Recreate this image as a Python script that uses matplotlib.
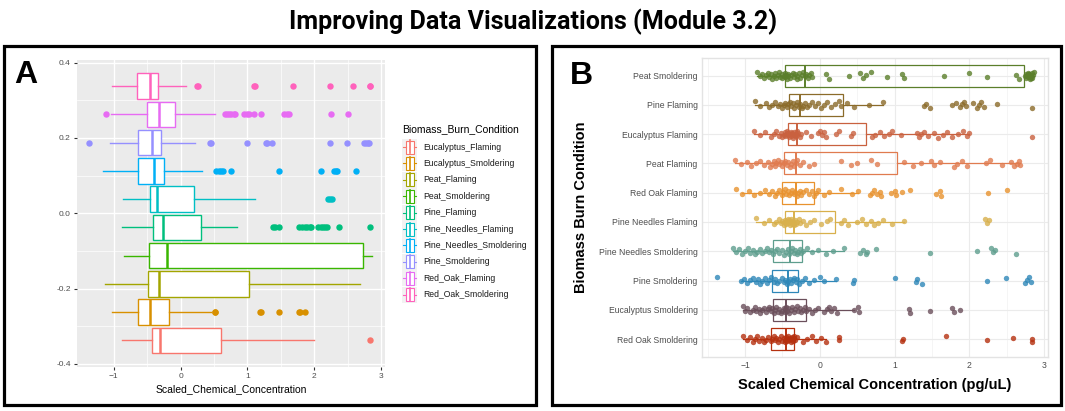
import numpy as np
import matplotlib
matplotlib.use("Agg")
import matplotlib.pyplot as plt
from matplotlib.patches import Rectangle

# ---------------- data ----------------
conditions = ["Eucalyptus_Flaming", "Eucalyptus_Smoldering", "Peat_Flaming", "Peat_Smoldering",
              "Pine_Flaming", "Pine_Needles_Flaming", "Pine_Needles_Smoldering", "Pine_Smoldering",
              "Red_Oak_Flaming", "Red_Oak_Smoldering"]
q1 = [-0.42, -0.63, -0.48, -0.47, -0.41, -0.46, -0.63, -0.64, -0.50, -0.65]
medians = [-0.31, -0.45, -0.32, -0.20, -0.26, -0.35, -0.40, -0.43, -0.32, -0.45]
q3 = [0.61, -0.18, 1.03, 2.73, 0.31, 0.20, -0.245, -0.29, -0.08, -0.34]
whisker_lo = [-0.88, -1.03, -1.13, -0.84, -0.87, -0.86, -1.16, -1.06, -1.04, -1.03]
whisker_hi = [2.00, 0.45, 2.68, 2.86, 0.84, 1.12, 0.32, 0.22, 0.51, 0.08]

euc_flaming = [-0.88, -0.80, -0.74, -0.66, -0.62, -0.58, -0.55, -0.52, -0.50, -0.48, -0.47, -0.46, -0.45,
               -0.44, -0.43, -0.42, -0.41, -0.40, -0.39, -0.38, -0.37, -0.36, -0.35, -0.34, -0.33, -0.32,
               -0.31, -0.30, -0.29, -0.27, -0.25, -0.19, -0.12, -0.03, 0.0, 0.03, 0.05, 0.08, 0.21, 0.26,
               0.41, 0.44, 0.70, 0.74, 0.80, 0.86, 0.92, 0.97, 1.08, 1.30, 1.33, 1.35, 1.39, 1.45, 1.52,
               1.58, 1.64, 1.70, 1.76, 1.85, 1.92, 1.97, 2.00, 2.84]
euc_smoldering = [-1.03, -1.00, -0.97, -0.94, -0.90, -0.87, -0.85, -0.82, -0.80, -0.78, -0.75, -0.72,
                  -0.70, -0.68, -0.66, -0.64, -0.62, -0.60, -0.58, -0.56, -0.54, -0.52, -0.50, -0.48,
                  -0.47, -0.46, -0.45, -0.44, -0.43, -0.41, -0.39, -0.37, -0.35, -0.33, -0.31, -0.29,
                  -0.27, -0.25, -0.23, -0.20, -0.18, -0.15, -0.10, -0.06, -0.02, 0.05, 0.10, 0.12, 0.15,
                  0.19, 0.23, 0.45, 0.51, 0.52, 1.19, 1.21, 1.47, 1.77, 1.79, 1.87]
peat_flaming = [-1.13, -1.05, -0.98, -0.92, -0.86, -0.80, -0.75, -0.70, -0.67, -0.64, -0.62, -0.60, -0.58,
                -0.56, -0.54, -0.52, -0.50, -0.48, -0.46, -0.44, -0.42, -0.40, -0.38, -0.36, -0.34, -0.32,
                -0.30, -0.27, -0.22, -0.15, -0.08, 0.28, 0.42, 0.50, 0.68, 0.77, 1.12, 1.24, 1.35, 1.48,
                1.52, 1.61, 1.79, 1.84, 1.90, 1.97, 2.22, 2.28, 2.44, 2.55, 2.60, 2.63, 2.66, 2.68]
peat_smoldering = [-0.84, -0.80, -0.78, -0.75, -0.72, -0.70, -0.68, -0.66, -0.64, -0.62, -0.60, -0.58,
                   -0.56, -0.55, -0.53, -0.51, -0.50, -0.48, -0.47, -0.46, -0.45, -0.44, -0.43, -0.42,
                   -0.40, -0.38, -0.36, -0.35, -0.33, -0.31, -0.30, -0.28, -0.26, -0.24, -0.22, -0.20,
                   -0.18, -0.16, -0.14, -0.12, -0.10, 0.08, 0.12, 0.39, 0.54, 0.58, 0.62, 0.68, 0.90, 1.10,
                   1.12, 1.66, 2.00, 2.24, 2.62, 2.66, 2.74, 2.75, 2.76, 2.77, 2.78, 2.79, 2.80, 2.81, 2.82,
                   2.83, 2.84, 2.85, 2.86, 2.78, 2.80, 2.82]
pine_flaming = [-0.87, -0.80, -0.72, -0.68, -0.64, -0.60, -0.56, -0.53, -0.50, -0.48, -0.46, -0.44, -0.42,
                -0.40, -0.38, -0.36, -0.34, -0.32, -0.30, -0.28, -0.26, -0.24, -0.22, -0.20, -0.17, -0.14,
                -0.10, -0.06, -0.02, 0.02, 0.06, 0.10, 0.15, 0.20, 0.25, 0.28, 0.36, 0.46, 0.66, 0.84,
                1.39, 1.42, 1.47, 1.77, 1.82, 1.87, 1.90, 1.93, 1.95, 2.05, 2.10, 2.13, 2.16, 2.19, 2.37,
                2.84]
pine_needles_flaming = [-0.86, -0.75, -0.68, -0.62, -0.58, -0.55, -0.52, -0.50, -0.48, -0.47, -0.46, -0.45,
                        -0.44, -0.43, -0.42, -0.41, -0.40, -0.39, -0.38, -0.37, -0.36, -0.35, -0.34, -0.33,
                        -0.32, -0.30, -0.28, -0.26, -0.22, -0.18, -0.13, -0.08, 0.02, 0.10, 0.14, 0.28, 0.32,
                        0.37, 0.50, 0.56, 0.62, 0.68, 0.72, 0.78, 0.84, 0.97, 1.12, 2.21, 2.24, 2.26]
pine_needles_smoldering = [-1.16, -1.12, -1.08, -1.04, -1.00, -0.96, -0.93, -0.90, -0.87, -0.84, -0.80,
                           -0.77, -0.74, -0.71, -0.68, -0.65, -0.63, -0.60, -0.57, -0.54, -0.51, -0.48,
                           -0.45, -0.43, -0.41, -0.39, -0.37, -0.35, -0.33, -0.31, -0.29, -0.27, -0.25,
                           -0.22, -0.17, -0.10, -0.02, 0.08, 0.18, 0.32, 0.53, 0.57, 0.61, 0.63, 0.75, 1.47,
                           2.10, 2.29, 2.32, 2.34, 2.62]
pine_smoldering = [-1.37, -1.06, -1.02, -0.98, -0.94, -0.90, -0.86, -0.83, -0.80, -0.77, -0.74, -0.71,
                   -0.68, -0.65, -0.62, -0.60, -0.57, -0.54, -0.51, -0.48, -0.46, -0.44, -0.42, -0.40,
                   -0.38, -0.36, -0.34, -0.32, -0.30, -0.28, -0.24, -0.20, -0.14, -0.08, 0.0, 0.05, 0.22,
                   0.44, 0.46, 1.00, 1.28, 1.30, 1.37, 2.24, 2.49, 2.74, 2.77, 2.80, 2.82]
red_oak_flaming = [-1.12, -1.04, -0.95, -0.88, -0.80, -0.74, -0.68, -0.64, -0.60, -0.57, -0.54, -0.51,
                   -0.49, -0.47, -0.45, -0.43, -0.41, -0.39, -0.37, -0.35, -0.33, -0.31, -0.29, -0.27,
                   -0.25, -0.22, -0.19, -0.15, -0.11, -0.08, -0.05, -0.02, 0.05, 0.12, 0.28, 0.43, 0.51,
                   0.67, 0.70, 0.73, 0.76, 0.80, 0.82, 0.95, 1.00, 1.02, 1.10, 1.21, 1.55, 1.60, 1.62,
                   2.25, 2.50]
red_oak_smoldering = [-1.03, -0.98, -0.94, -0.90, -0.87, -0.84, -0.81, -0.78, -0.75, -0.72, -0.69, -0.66,
                      -0.64, -0.62, -0.60, -0.58, -0.56, -0.54, -0.52, -0.50, -0.48, -0.47, -0.46, -0.45,
                      -0.44, -0.43, -0.42, -0.41, -0.40, -0.39, -0.38, -0.37, -0.36, -0.35, -0.34, -0.33,
                      -0.30, -0.22, -0.17, -0.10, -0.05, 0.02, 0.08, 0.25, 0.26, 1.10, 1.11, 1.68, 2.24,
                      2.58, 2.83, 2.84]

points = [euc_flaming, euc_smoldering, peat_flaming, peat_smoldering, pine_flaming,
          pine_needles_flaming, pine_needles_smoldering, pine_smoldering, red_oak_flaming,
          red_oak_smoldering]

# panel B ordering (top to bottom) and labels
b_order = ["Peat_Smoldering", "Pine_Flaming", "Eucalyptus_Flaming", "Peat_Flaming", "Red_Oak_Flaming",
           "Pine_Needles_Flaming", "Pine_Needles_Smoldering", "Pine_Smoldering",
           "Eucalyptus_Smoldering", "Red_Oak_Smoldering"]

colors_a = ["#F8766D", "#D89000", "#A3A500", "#39B600", "#00BF7D", "#00BFC4", "#00B0F6", "#9590FF",
            "#E76BF3", "#FF62BC"]
colors_b = ["#5B7F2B", "#8B6B2A", "#C9613F", "#E07B4F", "#E8922E", "#D8B04C", "#5E9E8E", "#2E87B8",
            "#6B4F5B", "#B5300F"]

# ---------------- figure ----------------
W, H = 1065, 411
fig = plt.figure(figsize=(W / 100, H / 100), dpi=100)
fig.patch.set_facecolor("white")
FONT = "Liberation Sans"


def fx(px):
    return px / W


def fy(py):
    return 1 - py / H


# ---------- Panel A ----------
axA = fig.add_axes([fx(77), fy(367), fx(385) - fx(77), fy(60) - fy(367)])
axA.set_facecolor("#EBEBEB")
n = len(conditions)
dodge = 0.75 / n
posA = [-0.375 + dodge * (i + 0.5) for i in range(n)]
for i in range(n):
    lo, hi = whisker_lo[i], whisker_hi[i]
    fl = [v for v in points[i] if v < lo or v > hi]
    st = dict(med=medians[i], q1=q1[i], q3=q3[i], whislo=lo, whishi=hi, fliers=fl)
    c = colors_a[i]
    axA.bxp([st], positions=[posA[i]], widths=dodge * 0.9, orientation="horizontal",
            showcaps=False, patch_artist=True,
            boxprops=dict(facecolor="white", edgecolor=c, linewidth=1.0),
            medianprops=dict(color=c, linewidth=1.8),
            whiskerprops=dict(color=c, linewidth=1.0),
            flierprops=dict(marker="o", markerfacecolor=c, markeredgecolor=c, markersize=3.6,
                            linestyle="none"),
            manage_ticks=False, zorder=3)
axA.set_xlim(-1.55, 3.06)
axA.set_ylim(-0.408, 0.407)
axA.set_xticks([-1, 0, 1, 2, 3])
axA.set_xticks([-0.5, 0.5, 1.5, 2.5], minor=True)
axA.set_yticks([-0.4, -0.2, 0.0, 0.2, 0.4])
axA.set_yticks([-0.3, -0.1, 0.1, 0.3], minor=True)
axA.set_yticklabels(["-0.4", "-0.2", "0.0", "0.2", "0.4"])
axA.grid(which="major", color="white", linewidth=1.0, zorder=0)
axA.grid(which="minor", color="white", linewidth=0.5, zorder=0)
axA.set_axisbelow(True)
for s in axA.spines.values():
    s.set_visible(False)
axA.tick_params(which="major", length=2.5, color="#333333", labelsize=6, labelcolor="#4D4D4D", pad=2)
axA.tick_params(which="minor", length=0)
for lab in axA.get_xticklabels() + axA.get_yticklabels():
    lab.set_fontfamily(FONT)
axA.set_xlabel("Scaled_Chemical_Concentration", fontsize=7.5, fontfamily=FONT, color="black",
               labelpad=3)

# ---------- Panel B ----------
axB = fig.add_axes([fx(701.7), fy(356.7), fx(1048) - fx(701.7), fy(58) - fy(356.7)])
axB.set_facecolor("white")
for j, name in enumerate(b_order):
    i = conditions.index(name)
    c = colors_b[j]
    pos = j + 1
    vals = np.array(points[i])
    k = np.arange(len(vals))
    jit = ((k * 0.6180339) % 1.0 - 0.5) * 0.24
    axB.scatter(vals, pos + jit, s=15, color=c, alpha=0.8, linewidths=0, zorder=2)
    st = dict(med=medians[i], q1=q1[i], q3=q3[i], whislo=whisker_lo[i], whishi=whisker_hi[i], fliers=[])
    axB.bxp([st], positions=[pos], widths=0.75, orientation="horizontal", showcaps=False,
            showfliers=False, patch_artist=True,
            boxprops=dict(facecolor="none", edgecolor=c, linewidth=0.9),
            medianprops=dict(color=c, linewidth=1.4),
            whiskerprops=dict(color=c, linewidth=0.9),
            manage_ticks=False, zorder=3)
axB.set_xlim(-1.58, 3.05)
axB.set_ylim(10.6, 0.4)
axB.set_xticks([-1, 0, 1, 2, 3])
axB.set_xticks([-1.5, -0.5, 0.5, 1.5, 2.5], minor=True)
axB.set_yticks(range(1, len(b_order) + 1))
axB.set_yticklabels([s.replace("_", " ") for s in b_order])
axB.grid(which="major", color="#EBEBEB", linewidth=0.8, zorder=0)
axB.grid(which="minor", axis="x", color="#F2F2F2", linewidth=0.5, zorder=0)
axB.set_axisbelow(True)
for s in axB.spines.values():
    s.set_color("#E3E3E3")
    s.set_linewidth(1.0)
axB.tick_params(which="both", length=0, labelsize=6.2, labelcolor="#4D4D4D", pad=3)
for lab in axB.get_xticklabels() + axB.get_yticklabels():
    lab.set_fontfamily(FONT)
axB.set_xlabel("Scaled Chemical Concentration (pg/uL)", fontsize=10.5, fontweight="bold",
               fontfamily=FONT, labelpad=6)
axB.set_ylabel("Biomass Burn Condition", fontsize=10.5, fontweight="bold", fontfamily=FONT,
               labelpad=8)

# ---------- overlay: frames, title, letters, legend ----------
ov = fig.add_axes([0, 0, 1, 1], zorder=10)
ov.set_xlim(0, W)
ov.set_ylim(H, 0)
ov.axis("off")
ov.patch.set_alpha(0)
ov.add_patch(Rectangle((4, 46), 532, 359, fill=False, edgecolor="black", linewidth=2.3))
ov.add_patch(Rectangle((552, 46), 509, 359, fill=False, edgecolor="black", linewidth=2.3))
ov.text(533, 22, "Improving Data Visualizations (Module 3.2)", ha="center", va="center",
        fontsize=18, fontweight="bold", fontfamily="Roboto")
ov.text(14, 75, "A", ha="left", va="center", fontsize=23, fontweight="bold", fontfamily=FONT)
ov.text(570, 76, "B", ha="left", va="center", fontsize=23, fontweight="bold", fontfamily=FONT)

# legend panel A
ov.text(402, 129, "Biomass_Burn_Condition", ha="left", va="center", fontsize=7.5, fontfamily=FONT)
for i, name in enumerate(conditions):
    yc = 147 + i * 16.4
    c = colors_a[i]
    ov.add_patch(Rectangle((402, yc - 8), 15, 16, facecolor="#F2F2F2", edgecolor="none"))
    ov.add_patch(Rectangle((405.5, yc - 6.5), 8, 13, facecolor="white", edgecolor=c, linewidth=0.8))
    ov.plot([409.5, 409.5], [yc - 6.5, yc + 6.5], color=c, linewidth=1.2)
    ov.plot([403, 405.5], [yc, yc], color=c, linewidth=0.8)
    ov.plot([413.5, 416], [yc, yc], color=c, linewidth=0.8)
    ov.text(423, yc, name, ha="left", va="center", fontsize=6.2, fontfamily=FONT, color="#1A1A1A")

fig.savefig("out.png", dpi=100)
